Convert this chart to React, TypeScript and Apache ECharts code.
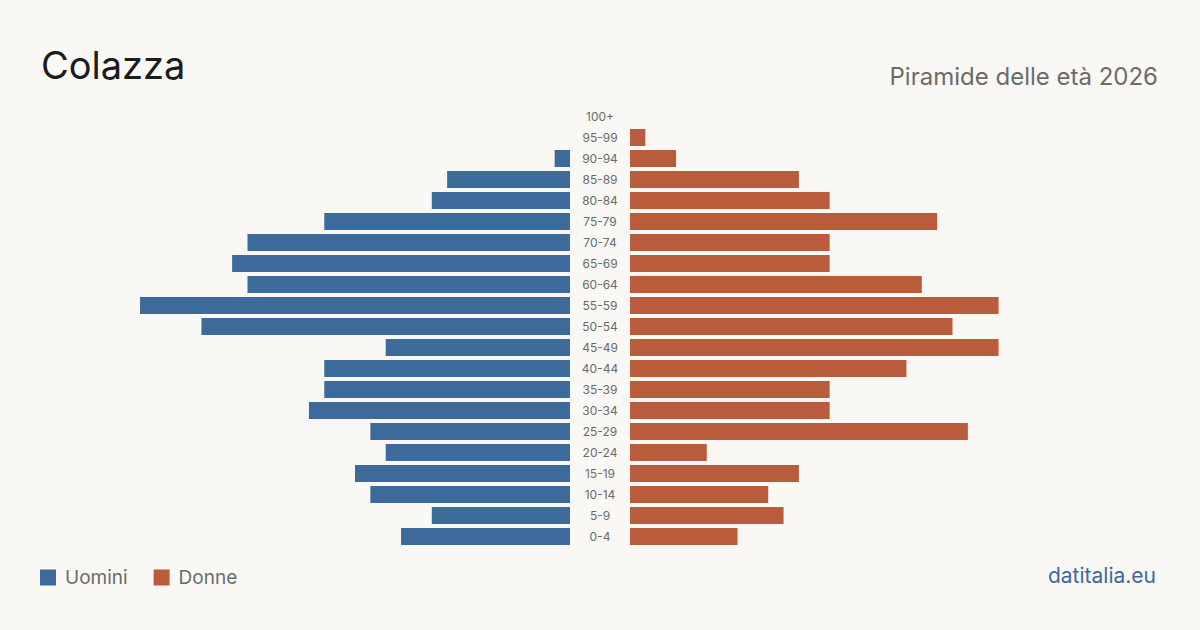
import React, { useEffect, useRef } from "react";
import * as echarts from "echarts";

const categories = ["0-4","5-9","10-14","15-19","20-24","25-29","30-34","35-39","40-44","45-49","50-54","55-59","60-64","65-69","70-74","75-79","80-84","85-89","90-94","95-99","100+"];
const uomini = [11,9,13,14,12,13,17,16,16,12,24,28,21,22,21,16,9,8,1,0,0];
const donne = [7,10,9,11,5,22,13,13,18,24,21,24,19,13,13,20,13,11,3,1,0];
const maxValue = 28;

const BLUE = "#3b6a9b";
const ORANGE = "#b95c3c";
const FONT = "Inter, 'Noto Sans', sans-serif";

export default function App() {
  const ref = useRef<HTMLDivElement>(null);
  useEffect(() => {
    document.body.style.margin = "0";
    const chart = echarts.init(ref.current!, null, { renderer: "svg" });
    chart.setOption({
      animation: false,
      backgroundColor: "#f9f8f4",
      textStyle: { fontFamily: FONT },
      title: [
        { text: "Colazza", left: 36, top: 41, textStyle: { fontSize: 38, fontWeight: "normal", color: "#1c1c1c", fontFamily: FONT } },
        { text: "Piramide delle età 2026", right: 37, top: 59, textStyle: { fontSize: 24, fontWeight: "normal", color: "#6b6b6b", fontFamily: FONT } },
        { text: "datitalia.eu", right: 39, top: 560, textStyle: { fontSize: 21, fontWeight: "normal", color: BLUE, fontFamily: FONT } },
      ],
      legend: {
        left: 40, top: 568, padding: 0, itemWidth: 16, itemHeight: 16, itemGap: 26, icon: "rect",
        textStyle: { fontSize: 19, color: "#6b6b6b", fontFamily: FONT, padding: [0, 0, 0, 4] },
        data: ["Uomini", "Donne"],
      },
      grid: [
        { left: 140, width: 430, top: 106, height: 441 },
        { left: 630, width: 430, top: 106, height: 441 },
      ],
      xAxis: [
        { type: "value", gridIndex: 0, min: 0, max: maxValue, inverse: true, show: false },
        { type: "value", gridIndex: 1, min: 0, max: maxValue, show: false },
      ],
      yAxis: [
        { type: "category", gridIndex: 0, data: categories, axisLine: { show: false }, axisTick: { show: false }, axisLabel: { show: false } },
        { type: "category", gridIndex: 1, data: categories, position: "left", axisLine: { show: false }, axisTick: { show: false },
          axisLabel: { show: true, align: "center", margin: 30, fontSize: 12, color: "#6b6b6b", fontFamily: FONT } },
      ],
      series: [
        { name: "Uomini", type: "bar", xAxisIndex: 0, yAxisIndex: 0, data: uomini, barWidth: 17, itemStyle: { color: BLUE } },
        { name: "Donne", type: "bar", xAxisIndex: 1, yAxisIndex: 1, data: donne, barWidth: 17, itemStyle: { color: ORANGE } },
      ],
    });
    return () => chart.dispose();
  }, []);
  return <div ref={ref} style={{ width: 1200, height: 630 }} />;
}
